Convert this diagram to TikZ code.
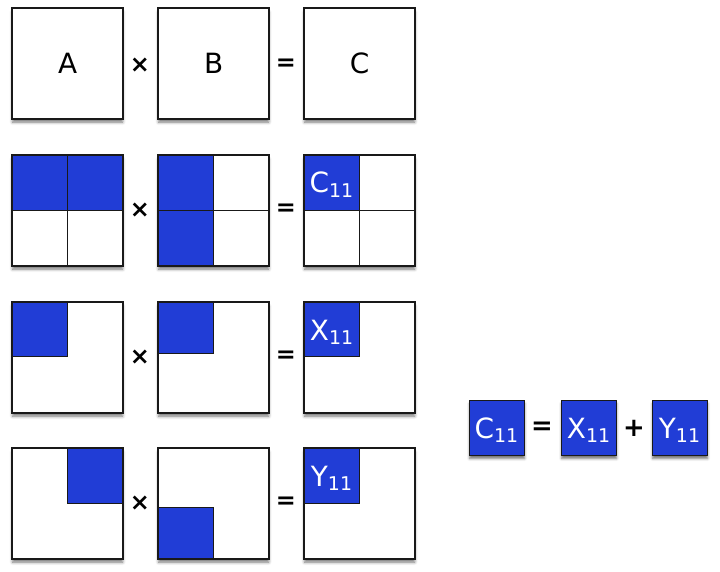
\documentclass[tikz,border=0pt]{standalone}
\usepackage{fontspec}
\setmainfont{DejaVu Sans}
\usetikzlibrary{shadows.blur}
\definecolor{blk}{RGB}{33,61,214}
\newcommand\subl[2]{#1\raisebox{-4.5bp}{\fontsize{19}{19}\selectfont #2}}
\tikzset{
  mat/.style={draw=black!90, line width=1.2bp, fill=white, minimum size=110bp, inner sep=0pt, anchor=north west,
     blur shadow={shadow xshift=0bp, shadow yshift=-3.5bp, shadow blur radius=3bp, shadow opacity=55}},
  edge/.style={draw=black!90, line width=1.2bp},
  blue/.style={draw=black!90, line width=1bp, fill=blk},
  grid/.style={draw=black!90, line width=1bp},
  big/.style={font=\fontsize{28}{30}\selectfont, inner sep=0pt},
  wlbl/.style={font=\fontsize{28}{30}\selectfont, text=white, inner sep=0pt, anchor=base},
  opx/.style={font=\bfseries\fontsize{24}{26}\selectfont, inner sep=0pt},
  ope/.style={font=\bfseries\fontsize{24}{26}\selectfont, inner sep=0pt},
  opr/.style={font=\bfseries\fontsize{26}{28}\selectfont, inner sep=0pt},
  small/.style={draw=black!90, line width=1.2bp, fill=blk, minimum size=55bp, inner sep=0pt, anchor=north west,
     blur shadow={shadow xshift=0bp, shadow yshift=-3bp, shadow blur radius=2.5bp, shadow opacity=55}},
}
\begin{document}
\begin{tikzpicture}[x=1bp,y=-1bp]
\useasboundingbox (0,0) rectangle (720,572);
% Row 1
\node[mat] (A1) at (12,8) {};
\node[mat] (B1) at (158,8) {};
\node[mat] (C1) at (304,8) {};
\draw[edge] (A1.north west) rectangle (A1.south east);
\draw[edge] (B1.north west) rectangle (B1.south east);
\draw[edge] (C1.north west) rectangle (C1.south east);
\node[big] (tA) at (A1.center) {A};
\node[big] (tB) at (B1.center) {B};
\node[big] (tC) at (C1.center) {C};
\node[opx] (x1) at (140,65) {×};
\node[ope] (e1) at (286,65) {=};
% Row 2
\node[mat] (A2) at (12,155) {};
\node[mat] (B2) at (158,155) {};
\node[mat] (C2) at (304,155) {};
\fill[blk] (12,155) rectangle (122,210);
\fill[blk] (158,155) rectangle (213,265);
\fill[blk] (304,155) rectangle (359,210);
\draw[grid] (A2.north) -- (A2.south) (A2.west) -- (A2.east);
\draw[grid] (B2.north) -- (B2.south) (B2.west) -- (B2.east);
\draw[grid] (C2.north) -- (C2.south) (C2.west) -- (C2.east);
\draw[edge] (A2.north west) rectangle (A2.south east);
\draw[edge] (B2.north west) rectangle (B2.south east);
\draw[edge] (C2.north west) rectangle (C2.south east);
\node[wlbl] (c11a) at (331.5,193) {\subl{C}{11}};
\node[opx] (x2) at (140,210) {×};
\node[ope] (e2) at (286,210) {=};
% Row 3
\node[mat] (A3) at (12,302) {};
\node[mat] (B3) at (158,302) {};
\node[mat] (C3) at (304,302) {};
\draw[blue] (12,302) rectangle (67,356);
\draw[blue] (158,302) rectangle (213,353);
\draw[blue] (304,302) rectangle (359,356);
\draw[edge] (A3.north west) rectangle (A3.south east);
\draw[edge] (B3.north west) rectangle (B3.south east);
\draw[edge] (C3.north west) rectangle (C3.south east);
\node[wlbl] (x11a) at (331.5,340) {\subl{X}{11}};
\node[opx] (x3) at (140,357) {×};
\node[ope] (e3) at (286,357) {=};
% Row 4
\node[mat] (A4) at (12,448) {};
\node[mat] (B4) at (158,448) {};
\node[mat] (C4) at (304,448) {};
\draw[blue] (67,448) rectangle (122,503);
\draw[blue] (158,507) rectangle (213,558);
\draw[blue] (304,448) rectangle (359,503);
\draw[edge] (A4.north west) rectangle (A4.south east);
\draw[edge] (B4.north west) rectangle (B4.south east);
\draw[edge] (C4.north west) rectangle (C4.south east);
\node[wlbl] (y11a) at (331.5,486) {\subl{Y}{11}};
\node[opx] (x4) at (140,503) {×};
\node[ope] (e4) at (286,503) {=};
% Right equation
\node[small] (R1) at (469,400) {};
\node[small] (R2) at (561,400) {};
\node[small] (R3) at (652,400) {};
\node[wlbl] (rc) at (496.5,438) {\subl{C}{11}};
\node[wlbl] (rx) at (588.5,438) {\subl{X}{11}};
\node[wlbl] (ry) at (679.5,438) {\subl{Y}{11}};
\node[opr] (re) at (542,428) {=};
\node[opr] (rp) at (634,428) {+};
\end{tikzpicture}
\end{document}
